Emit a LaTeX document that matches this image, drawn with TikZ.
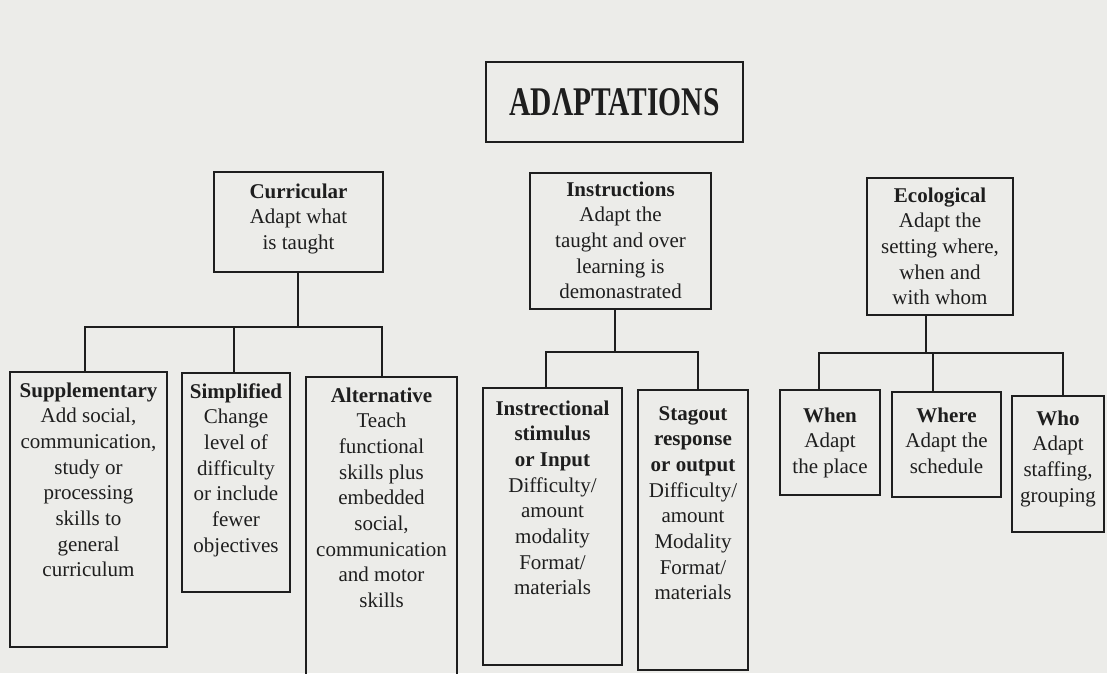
\documentclass[tikz,border=0pt]{standalone}
\usepackage{fontspec}
\usepackage{graphicx}
\setmainfont{Liberation Serif}
\usetikzlibrary{calc}
\definecolor{ink}{RGB}{30,30,30}
\definecolor{paper}{RGB}{236,236,233}
\newcommand{\bx}[4]{\parbox[c][#2pt][t]{#1pt}{\centering\rule{0pt}{#3pt}#4}}
\tikzset{
  box/.style={draw=ink, line width=1.9pt, inner sep=0pt, text=ink,
    font=\fontsize{21}{25.7}\selectfont},
  conn/.style={draw=ink, line width=1.9pt}
}
\begin{document}
\begin{tikzpicture}[x=1pt,y=-1pt]
\clip (0,0) rectangle (1107,673);
\fill[paper] (0,0) rectangle (1107,673);

% top
\node[box, minimum width=257pt, minimum height=80pt] (top) at (614.5,102)
  {\scalebox{1}[1.38]{\fontsize{29.5}{31}\selectfont\bfseries ADΛPTATIONS}};

% second level
\node[box] (cur) at (298.5,222) {\bx{169}{100}{26}{\textbf{Curricular}\\Adapt what\\is taught}};
\node[box] (inst) at (620.5,241) {\bx{181}{136}{23}{\textbf{Instructions}\\Adapt the\\taught and over\\learning is\\demonastrated}};
\node[box] (eco) at (940,246.5) {\bx{146}{137}{24}{\textbf{Ecological}\\Adapt the\\setting where,\\when and\\with whom}};

% leaves
\node[box] (sup) at (88.5,509.5) {\bx{157}{275}{25}{\textbf{Supplementary}\\Add social,\\communication,\\study or\\processing\\skills to\\general\\curriculum}};
\node[box] (sim) at (236,482.5) {\bx{108}{219}{25}{\textbf{Simplified}\\Change\\level of\\difficulty\\or include\\fewer\\objectives}};
\node[box] (alt) at (381.5,533.5) {\bx{151}{313}{25}{\textbf{Alternative}\\Teach\\functional\\skills plus\\embedded\\social,\\communication\\and motor\\skills}};
\node[box] (stim) at (552.5,526.5) {\bx{139}{277}{27}{\textbf{Instrectional}\\\textbf{stimulus}\\\textbf{or Input}\\Difficulty/\\amount\\modality\\Format/\\materials}};
\node[box] (resp) at (693,530) {\bx{110}{280}{30}{\textbf{Stagout}\\\textbf{response}\\\textbf{or output}\\Difficulty/\\amount\\Modality\\Format/\\materials}};
\node[box] (when) at (830,442.5) {\bx{100}{105}{32}{\textbf{When}\\Adapt\\the place}};
\node[box] (where) at (946.5,444.5) {\bx{109}{105}{30}{\textbf{Where}\\Adapt the\\schedule}};
\node[box] (who) at (1058,464) {\bx{92}{136}{29}{\textbf{Who}\\Adapt\\staffing,\\grouping}};

% connector anchor points
\coordinate (curB) at ($(cur.south west)!0.497!(cur.south east)$);
\coordinate (supT) at ($(sup.north west)!0.478!(sup.north east)$);
\coordinate (simT) at ($(sim.north west)!0.48!(sim.north east)$);
\coordinate (altT) at ($(alt.north west)!0.503!(alt.north east)$);
\coordinate (cj) at (298,327);

\coordinate (instB) at ($(inst.south west)!0.47!(inst.south east)$);
\coordinate (stimT) at ($(stim.north west)!0.453!(stim.north east)$);
\coordinate (respT) at ($(resp.north west)!0.545!(resp.north east)$);
\coordinate (ij) at (615,352);

\coordinate (ecoB) at ($(eco.south west)!0.404!(eco.south east)$);
\coordinate (whenT) at ($(when.north west)!0.39!(when.north east)$);
\coordinate (whereT) at ($(where.north west)!0.376!(where.north east)$);
\coordinate (whoT) at ($(who.north west)!0.554!(who.north east)$);
\coordinate (ej) at (926,353);

% connectors
\draw[conn] (curB) -- (curB |- cj);
\draw[conn] (supT) |- (cj) -| (altT);
\draw[conn] (simT) -- (simT |- cj);

\draw[conn] (instB) -- (instB |- ij);
\draw[conn] (stimT) |- (ij) -| (respT);

\draw[conn] (ecoB) -- (ecoB |- ej);
\draw[conn] (whenT) |- (ej) -| (whoT);
\draw[conn] (whereT) -- (whereT |- ej);
\end{tikzpicture}
\end{document}
